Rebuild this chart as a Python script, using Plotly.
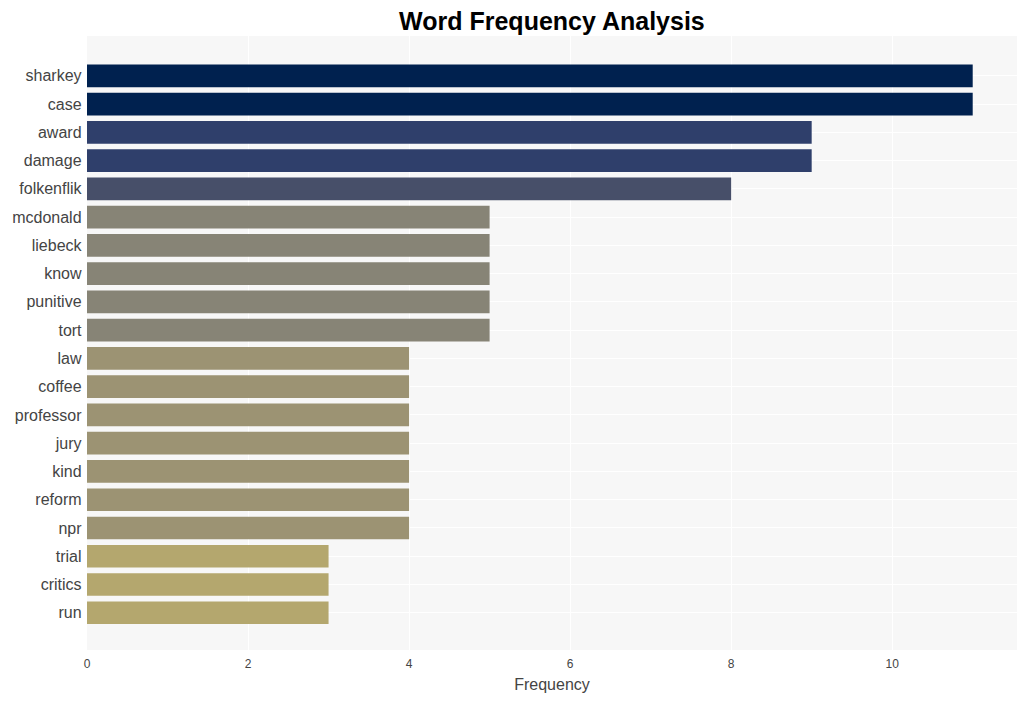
import plotly.graph_objects as go

words = ["sharkey", "case", "award", "damage", "folkenflik", "mcdonald", "liebeck",
         "know", "punitive", "tort", "law", "coffee", "professor", "jury", "kind",
         "reform", "npr", "trial", "critics", "run"]
counts = [11, 11, 9, 9, 8, 5, 5, 5, 5, 5, 4, 4, 4, 4, 4, 4, 4, 3, 3, 3]
color_by_count = {11: "#00214f", 9: "#2f3f6b", 8: "#474f69", 5: "#878476",
                  4: "#9c9373", 3: "#b4a76e"}
colors = [color_by_count[c] for c in counts]

fig = go.Figure(go.Bar(
    x=counts, y=words, orientation="h",
    marker=dict(color=colors, line=dict(width=0)),
))

n = len(words)
fig.update_layout(
    width=1011, height=685,
    margin=dict(l=79, r=2, t=28, b=43),
    paper_bgcolor="white", plot_bgcolor="#f7f7f7",
    bargap=0.2,
    title=dict(text="<b>Word Frequency Analysis</b>", x=0.538, xanchor="center",
               y=0.981, yanchor="middle",
               font=dict(family="Arial, Liberation Sans", size=25, color="black")),
    font=dict(family="Arial, Liberation Sans", color="#444"),
    showlegend=False,
)
fig.update_xaxes(range=[0, 11.55], dtick=2, gridcolor="white", gridwidth=1,
                 zeroline=False, tickfont=dict(size=12), ticklabelstandoff=5,
                 title=dict(text="Frequency", font=dict(size=16), standoff=8))
fig.update_yaxes(range=[n - 1 + 1.32, -1.41], gridcolor="white",
                 tickfont=dict(size=16), ticksuffix=" ")

fig.write_html("out.html")
